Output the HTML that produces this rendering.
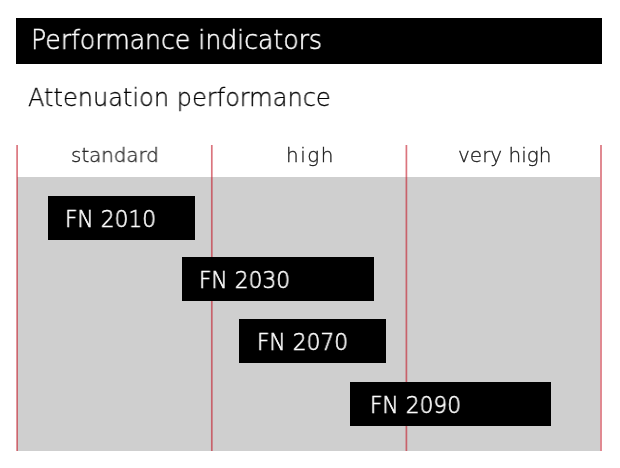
<!DOCTYPE html>
<html><head><meta charset="utf-8">
<style>
html,body{margin:0;padding:0;background:#fff;}
body{width:620px;height:468px;position:relative;overflow:hidden;font-family:"DejaVu Sans","Liberation Sans",sans-serif;font-weight:200;}
.abs{position:absolute;}
.tx{position:absolute;white-space:nowrap;transform-origin:0 0;line-height:1;will-change:transform;}
.bar{left:16px;top:18px;width:586px;height:46px;background:#000;}
.t1{left:30.7px;top:26px;color:#fff;-webkit-text-stroke:0.55px #fff;font-size:27px;transform:scaleX(0.931);}
.t2{left:28px;top:86px;color:#000;-webkit-text-stroke:0.3px #000;font-size:24.8px;transform:scaleX(0.97);}
.gray{left:17px;top:177px;width:582.6px;height:274px;background:#cfcfcf;}
.hd{top:145px;font-size:20px;color:#1a1a1a;-webkit-text-stroke:0.3px #1a1a1a;}
.box{background:#000;height:44px;}
.fn{color:#fff;font-size:22.8px;transform:scaleX(0.953);-webkit-text-stroke:0.6px #fff;}
</style></head><body>
<div class="abs bar"></div>
<div class="abs gray"></div>
<div class="tx t1">Performance indicators</div>
<div class="tx t2">Attenuation performance</div>
<svg class="abs" style="left:0;top:0" width="620" height="468" viewBox="0 0 620 468"><g stroke="rgb(195,25,40)" stroke-opacity="0.6" stroke-width="1.7"><line x1="17.1" y1="145" x2="17.1" y2="451"/><line x1="211.8" y1="145" x2="211.8" y2="451"/><line x1="406.4" y1="145" x2="406.4" y2="451"/><line x1="601" y1="145" x2="601" y2="451"/></g></svg>
<div class="tx hd" id="h1" style="left:70.8px;transform:scaleX(0.99)">standard</div>
<div class="tx hd" id="h2" style="left:285.9px;letter-spacing:1.47px">high</div>
<div class="tx hd" id="h3" style="left:458px">very high</div>
<div class="abs box" style="left:48px;top:196px;width:147px"></div>
<div class="tx fn" style="left:64.8px;top:208.3px">FN 2010</div>
<div class="abs box" style="left:182px;top:257px;width:192px"></div>
<div class="tx fn" style="left:198.6px;top:269.3px">FN 2030</div>
<div class="abs box" style="left:239px;top:319px;width:147px"></div>
<div class="tx fn" style="left:256.8px;top:331.3px">FN 2070</div>
<div class="abs box" style="left:350px;top:382px;width:201px"></div>
<div class="tx fn" style="left:369.7px;top:394.3px">FN 2090</div>
</body></html>
